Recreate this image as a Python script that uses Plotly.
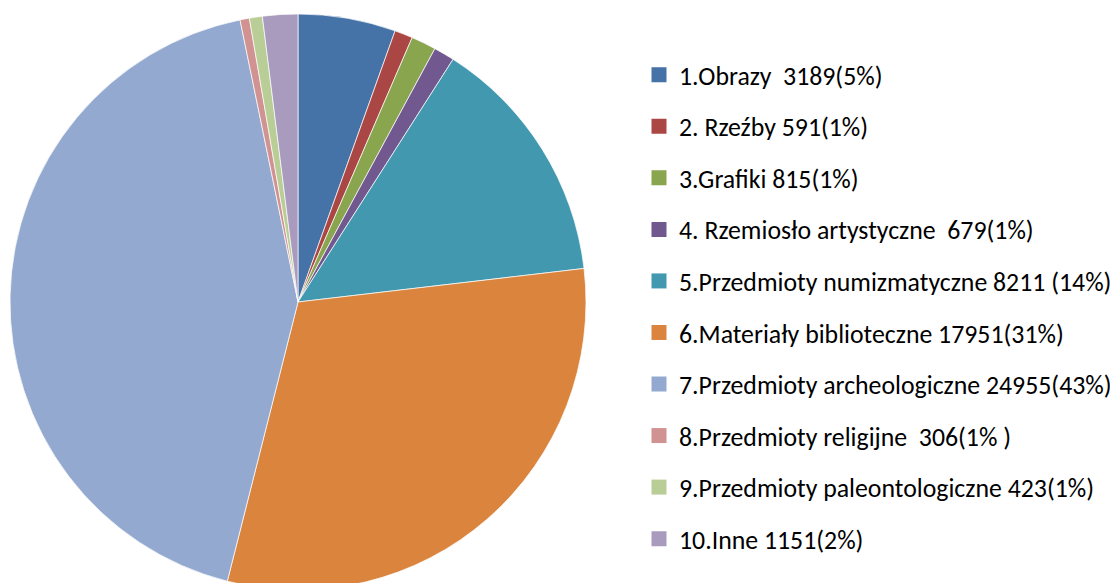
import plotly.graph_objects as go

labels = [
    "1.Obrazy  3189(5%)",
    "2. Rzeźby 591(1%)",
    "3.Grafiki 815(1%)",
    "4. Rzemiosło artystyczne  679(1%)",
    "5.Przedmioty numizmatyczne 8211 (14%)",
    "6.Materiały biblioteczne 17951(31%)",
    "7.Przedmioty archeologiczne 24955(43%)",
    "8.Przedmioty religijne  306(1% )",
    "9.Przedmioty paleontologiczne 423(1%)",
    "10.Inne 1151(2%)",
]
values = [3189, 591, 815, 679, 8211, 17951, 24955, 306, 423, 1151]
colors = ["#4572A7", "#AA4643", "#89A54E", "#71588F", "#4198AF",
          "#DB843D", "#93A9CF", "#D19392", "#B9CD96", "#A99BBD"]

FONT = "Carlito, Calibri, Lato, sans-serif"
W, H, TOP = 1118, 582, 6
PLOT_H = H - TOP

fig = go.Figure()
fig.add_trace(go.Pie(
    labels=labels, values=values, sort=False, direction="clockwise",
    rotation=0, textinfo="none", hoverinfo="label+value",
    marker=dict(colors=colors, line=dict(color="rgba(255,255,255,0.7)", width=1)),
    showlegend=False,
    domain=dict(x=[2/W, 578/W], y=[0, 1]),
))

# legend entries
for i, (lab, col) in enumerate(zip(labels, colors)):
    fig.add_trace(go.Scatter(
        x=[None], y=[None], mode="markers", name=lab,
        marker=dict(symbol="square", size=15, color=col),
        legendgroup=f"g{i}", showlegend=True,
    ))

fig.update_layout(
    width=W, height=H,
    margin=dict(l=0, r=0, t=TOP, b=0),
    paper_bgcolor="white", plot_bgcolor="white",
    xaxis=dict(visible=False), yaxis=dict(visible=False),
    font=dict(family=FONT, size=25.8, color="#000000"),
    legend=dict(x=631/W, xanchor="left", y=1 - (43.5 - TOP)/PLOT_H, yanchor="top",
                tracegroupgap=15, traceorder="grouped",
                font=dict(family=FONT, size=25.8, color="#000000"),
                bgcolor="rgba(0,0,0,0)"),
)

fig.write_html("out.html")
